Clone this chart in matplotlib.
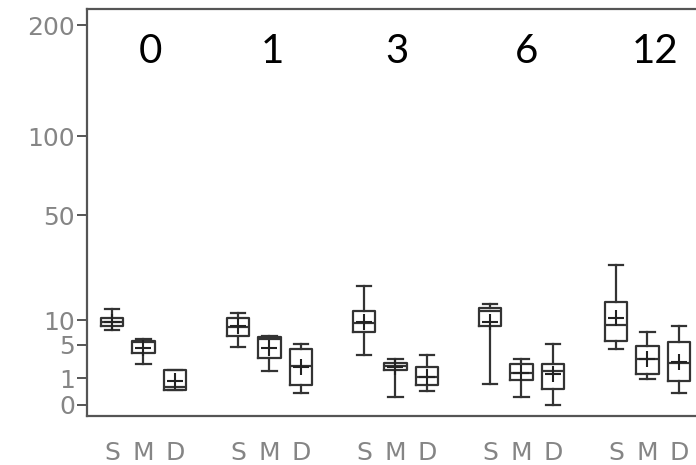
import numpy as np
import matplotlib
matplotlib.use("Agg")
import matplotlib.pyplot as plt

# ---- data ----
months = ["0", "1", "3", "6", "12"]
groups = ["S", "M", "D"]
# per box in order month0 S,M,D, month1 S,M,D, ...
whislo = [7.8, 2.3, 0.31,  4.7, 1.6, 0.19,  3.46, 0.08, 0.28,  0.59, 0.08, 0.0,  4.3, 0.92, 0.19]
q1     = [8.7, 3.7, 0.31,  6.6, 3.1, 0.55,  7.44, 1.65, 0.55,  8.64, 0.87, 0.34, 5.73, 1.33, 0.82]
med    = [9.6, 5.45, 0.45, 8.5, 6.1, 2.11,  9.4, 2.1, 1.1,     12.2, 1.39, 1.6,  8.86, 2.89, 2.41]
q3     = [10.6, 5.75, 1.7, 10.56, 6.35, 4.3, 12.24, 2.45, 2.03, 12.95, 2.33, 2.3, 14.6, 4.82, 5.45]
whishi = [12.7, 6.1, 1.7,  11.65, 6.6, 5.15, 19.6, 2.93, 3.46,  14.05, 2.93, 5.15, 27.2, 7.32, 8.71]
means  = [9.6, 4.55, 0.82, 8.7, 4.5, 2.0,   9.5, 2.0, 1.1,     9.6, 1.4, 1.33,   10.4, 2.89, 2.53]
yticks = [0, 1, 5, 10, 50, 100, 200]

# ---- positions ----
positions = []
for g in range(len(months)):
    for k in range(len(groups)):
        positions.append(4 * g + k)

stats = []
for i in range(len(positions)):
    stats.append(dict(whislo=whislo[i], q1=q1[i], med=med[i], q3=q3[i],
                      whishi=whishi[i], mean=means[i], fliers=[]))

fig = plt.figure(figsize=(6.96, 4.65), dpi=100)
ax = fig.add_axes([87.3 / 696, 1 - 416 / 465, 1 - 87.3 / 696, (416 - 9.3) / 465])

def fwd(x):
    x = np.asarray(x, dtype=float)
    return np.sign(x) * np.sqrt(np.abs(x))

def inv(x):
    x = np.asarray(x, dtype=float)
    return np.sign(x) * x ** 2

ax.set_yscale('function', functions=(fwd, inv))

lc = '#333333'
ax.bxp(stats, positions=positions, widths=0.72, capwidths=0.45,
       showmeans=True, showfliers=False, patch_artist=False,
       boxprops=dict(color=lc, linewidth=1.6),
       whiskerprops=dict(color=lc, linewidth=1.6),
       capprops=dict(color=lc, linewidth=1.6),
       medianprops=dict(color=lc, linewidth=1.6),
       meanprops=dict(marker='+', markeredgecolor='#222222', markersize=11,
                      markeredgewidth=1.5, linestyle='none'))

ax.set_ylim(-0.168, 216.9)
ax.set_xlim(-0.784, 18.54)

ax.set_yticks(yticks)
ax.set_yticklabels([str(v) for v in yticks])
ax.set_xticks(positions)
ax.set_xticklabels(groups * len(months))

ax.tick_params(axis='y', length=7, width=1.4, color='#555555', pad=2,
               labelsize=18, labelcolor='#858585')
ax.tick_params(axis='x', length=0, pad=18, labelsize=18, labelcolor='#858585')
for lab in ax.get_yticklabels() + ax.get_xticklabels():
    lab.set_fontfamily('DejaVu Sans')
    lab.set_fontweight('normal')

for s in ['left', 'bottom', 'top']:
    ax.spines[s].set_color('#555555')
    ax.spines[s].set_linewidth(1.6)
ax.spines['right'].set_visible(False)

label_x = [1.206, 5.08, 9.05, 13.17, 17.24]
for lx, m in zip(label_x, months):
    ax.text(lx, 0.8687, m, transform=ax.get_xaxis_transform(), ha='center',
            va='baseline', fontsize=29, family=['Lato', 'DejaVu Sans'], color='black')

fig.savefig('out.png', dpi=100)
